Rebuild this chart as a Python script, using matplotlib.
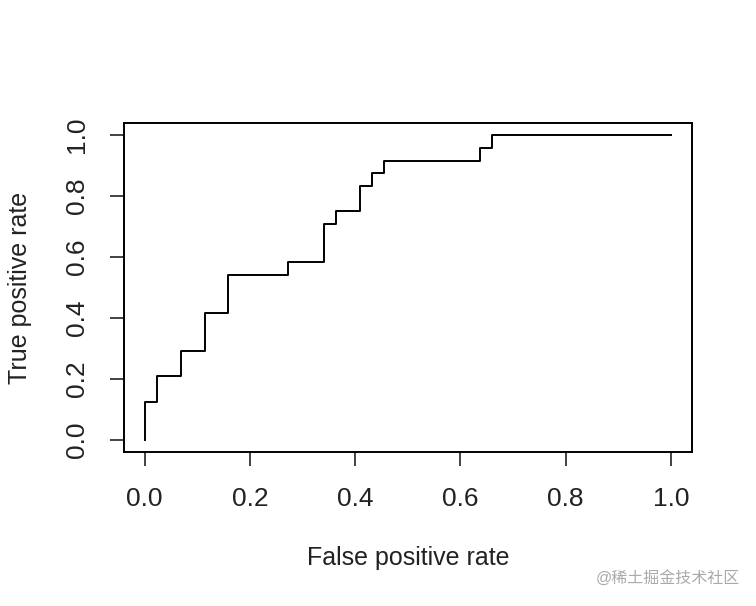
import numpy as np
import matplotlib.pyplot as plt

plt.rcParams['font.family'] = ['Liberation Sans', 'Noto Sans CJK SC', 'DejaVu Sans']

# ROC curve: 44 negatives, 24 positives
n_neg = 44
n_pos = 24
fp_counts = [0, 0, 1, 1, 3, 3, 5, 5, 7, 7, 12, 12, 15, 15, 16, 16, 18, 18, 19, 19, 20, 20, 28, 28, 29, 29, 44]
tp_counts = [0, 3, 3, 5, 5, 7, 7, 10, 10, 13, 13, 14, 14, 17, 17, 18, 18, 20, 20, 21, 21, 22, 22, 23, 23, 24, 24]
x_ticks = [0.0, 0.2, 0.4, 0.6, 0.8, 1.0]
y_ticks = [0.0, 0.2, 0.4, 0.6, 0.8, 1.0]

fpr = np.array(fp_counts) / n_neg
tpr = np.array(tp_counts) / n_pos

fig = plt.figure(figsize=(7.56, 6.06), dpi=100)
ax = fig.add_axes([123.7/756, 1 - 452/606, (692 - 123.7)/756, (452 - 123)/606])
ax.plot(fpr, tpr, color='black', linewidth=1.4)
ax.set_xlim(-0.04, 1.04)
ax.set_ylim(-0.04, 1.04)
ax.set_xticks(x_ticks)
ax.set_yticks(y_ticks)
ax.set_xticklabels([f'{v:.1f}' for v in x_ticks])
ax.set_yticklabels([f'{v:.1f}' for v in y_ticks], rotation=90, va='center')
ax.tick_params(length=10, width=1.2, pad=15, labelsize=19, colors='#222222')
for s in ax.spines.values():
    s.set_linewidth(1.4)

fig.text(408/756, 1 - 558/606, 'False positive rate', ha='center', va='center', fontsize=18, color='#222222')
fig.text(20/756, 1 - 288/606, 'True positive rate', ha='center', va='center', rotation=90, fontsize=18, color='#222222')
fig.text(740/756, 1 - 579/606, '@稀土掘金技术社区', ha='right', va='center', fontsize=11.5, color='#aaaaaa')

fig.savefig('out.png', dpi=100)
